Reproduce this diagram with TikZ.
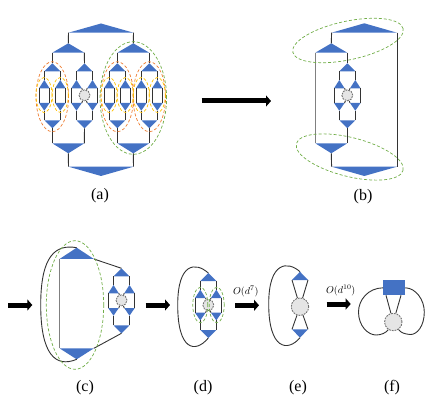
\documentclass[tikz,border=0pt]{standalone}
\usepackage{amsmath,amssymb}
\usepackage{xcolor}
\usepackage{fontspec}
\setmainfont{Liberation Serif}
\usepackage{tikz}
\usetikzlibrary{arrows.meta,shapes.geometric}

\definecolor{tnblue}{HTML}{4472C4}
\definecolor{tngreen}{HTML}{70AD47}
\definecolor{tnorange}{HTML}{ED7D31}
\definecolor{tnyellow}{HTML}{FFC000}

% triangle: name, x, apex y, base y, half width
\newcommand{\tri}[5]{%
    \coordinate (#1-a) at (#2,#3);
    \coordinate (#1-l) at ({#2-#5},#4);
    \coordinate (#1-r) at ({#2+#5},#4);
    \fill[tensor] (#1-a) -- (#1-l) -- (#1-r) -- cycle;
}
% shared part of a block: name, x, y
\newcommand{\blockparts}[3]{%
    \tri{#1t}{#2}{#3-32}{#3-24}{8}
    \tri{#1p}{#2-8}{#3-15.3}{#3-7}{5.3}
    \tri{#1q}{#2+8}{#3-15.3}{#3-7}{5.3}
    \tri{#1u}{#2-8}{#3+15.4}{#3+7.7}{5.3}
    \tri{#1v}{#2+8}{#3+15.4}{#3+7.7}{5.3}
    \tri{#1b}{#2}{#3+33}{#3+25}{8}
    \draw[leg] (#1t-l) -- (#1p-a);
    \draw[leg] (#1t-r) -- (#1q-a);
    \draw[leg] (#1u-a) -- (#1b-l);
    \draw[leg] (#1v-a) -- (#1b-r);
    \draw[leg] (#1p-l) -- (#1u-l);
    \draw[leg] (#1q-r) -- (#1v-r);
}
% block with plain wires
\newcommand{\plainblock}[3]{%
    \blockparts{#1}{#2}{#3}
    \draw[leg] (#1p-r) -- (#1u-r);
    \draw[leg] (#1q-l) -- (#1v-l);
}
% block with the gray site in its middle
\newcommand{\siteblock}[3]{%
    \blockparts{#1}{#2}{#3}
    \node[site, minimum size=11pt] (#1s) at (#2,#3) {};
    \draw[leg] (#1p-r) -- (#1s);
    \draw[leg] (#1q-l) -- (#1s);
    \draw[leg] (#1u-r) -- (#1s);
    \draw[leg] (#1v-l) -- (#1s);
}

\begin{document}
\begin{tikzpicture}[
        x=1pt, y=-1pt,
        tensor/.style={fill=tnblue},
        leg/.style={line width=0.9pt, draw=black!80},
        thickleg/.style={line width=1.3pt, draw=black!50},
        site/.style={circle, draw=black!55, dash pattern=on 1.8pt off 1pt, fill=black!10, line width=0.9pt, inner sep=0pt},
        hoop/.style={ellipse, densely dashed, inner sep=0pt, line width=0.7pt},
        greenhoop/.style={hoop, draw=tngreen},
        orangehoop/.style={hoop, draw=tnorange, minimum width=32.6pt, minimum height=70pt},
        yellowhoop/.style={hoop, draw=tnyellow, minimum width=16pt, minimum height=35pt},
        bigarrow/.style={line width=5pt, draw=black, -{Triangle[length=5pt, width=11pt]}},
        caption/.style={font=\fontsize{16}{18}\selectfont},
        cost/.style={font=\fontsize{10}{11}\selectfont}
    ]
    \useasboundingbox (0,0) rectangle (436,403);

    % (a) top and bottom
    \tri{at}{101}{23.5}{32.7}{32.5}
    \tri{ab}{101}{176}{166.7}{32.5}
    \tri{al}{68.3}{43.3}{52.7}{16}
    \tri{ar}{133.3}{43.3}{52.7}{16}
    \tri{am}{68.3}{153.3}{143.3}{16}
    \tri{an}{133.3}{153.3}{143.3}{16}
    \draw[leg] (at-l) -- (al-a);
    \draw[leg] (at-r) -- (ar-a);
    \draw[leg] (am-a) -- (ab-l);
    \draw[leg] (an-a) -- (ab-r);

    % (a) blocks
    \plainblock{ka}{52.3}{95.3}
    \siteblock{kb}{84.5}{95.3}
    \plainblock{kc}{117.3}{95.3}
    \plainblock{kd}{149.3}{95.3}
    \draw[leg] (al-l) -- (kat-a);
    \draw[leg] (al-r) -- (kbt-a);
    \draw[leg] (ar-l) -- (kct-a);
    \draw[leg] (ar-r) -- (kdt-a);
    \draw[leg] (kab-a) -- (am-l);
    \draw[leg] (kbb-a) -- (am-r);
    \draw[leg] (kcb-a) -- (an-l);
    \draw[leg] (kdb-a) -- (an-r);

    % (a) hoops
    \foreach \n/\hx in {oa/52.3, oc/117.3, od/149.3}
        \node[orangehoop] (\n) at (\hx,96.7) {};
    \foreach \n/\hx in {ya/44, yb/60.3, yc/109, yd/125.3, ye/141.3, yf/157.3}
        \node[yellowhoop] (\n) at (\hx,95) {};
    \node[greenhoop, minimum width=66.6pt, minimum height=112.6pt] (ga) at (133.3,98) {};

    \coordinate (fa) at (201.7,101);
    \coordinate (fb) at (271,101);
    \draw[bigarrow] (fa) -- (fb);
    \node[caption] (capa) at (100,196) {(a)};

    % (b)
    \tri{bt}{364.3}{23.3}{32.7}{32.7}
    \tri{bb}{364.3}{176}{166.7}{32.7}
    \tri{bl}{331.3}{43.3}{52.7}{16}
    \tri{bm}{331.3}{153.3}{143.3}{16}
    \siteblock{kf}{347.3}{95.3}
    \draw[leg] (bt-l) -- (bl-a);
    \draw[leg] (bt-r) -- (bb-r);
    \draw[thickleg] (bl-l) -- (bm-l);
    \draw[leg] (bl-r) -- (kft-a);
    \draw[leg] (kfb-a) -- (bm-r);
    \draw[leg] (bm-a) -- (bb-l);
    \node[greenhoop, rotate=12, minimum width=112.8pt, minimum height=38.6pt] (gb) at (348,40.5) {};
    \node[greenhoop, rotate=-14, minimum width=110pt, minimum height=39pt] (gc) at (349.7,157) {};
    \node[caption] (capb) at (363,197) {(b)};

    % (c)
    \coordinate (fc) at (8.3,305);
    \coordinate (fd) at (32.3,305);
    \draw[bigarrow] (fc) -- (fd);
    \tri{ct}{76.7}{247.7}{259}{17.2}
    \tri{cb}{76.7}{359.3}{348.3}{17.2}
    \draw[thickleg] (ct-l) -- (cb-l);
    \siteblock{kg}{121.5}{300.3}
    \draw[leg] (ct-r) -- (kgt-a);
    \draw[leg] (cb-r) -- (kgb-a);
    \coordinate (cw) at (40.7,305);
    \draw[leg] (ct-a) .. controls (56,244) and (40.7,255) .. (cw) .. controls (40.7,355) and (56,368) .. (cb-a);
    \node[greenhoop, minimum width=57.4pt, minimum height=128.6pt] (gd) at (75,305) {};
    \node[caption] (capc) at (85,388) {(c)};

    % (d)
    \coordinate (fe) at (145.7,305);
    \coordinate (ff) at (170,305);
    \draw[bigarrow] (fe) -- (ff);
    \siteblock{kh}{208.3}{305}
    \coordinate (dw) at (177.7,305);
    \draw[leg] (kht-a) .. controls (196,262) and (177.7,262) .. (dw) .. controls (177.7,350) and (195,354) .. (khb-a);
    \node[greenhoop, minimum width=15pt, minimum height=35.4pt] (ge) at (200.3,305) {};
    \node[greenhoop, minimum width=15pt, minimum height=35.4pt] (gf) at (216.7,305) {};
    \node[caption] (capd) at (203,388) {(d)};

    % (e)
    \coordinate (fg) at (235.3,305.3);
    \coordinate (fh) at (259,305.3);
    \draw[bigarrow] (fg) -- (fh);
    \node[cost] (coste) at (245.7,291.5) {$O(d^{7})$};
    \tri{et}{300}{271.7}{280}{8}
    \tri{eb}{300}{337.7}{329.3}{8}
    \node[site, minimum size=17.4pt] (es) at (300,306.7) {};
    \draw[leg] (et-l) -- (es);
    \draw[leg] (et-r) -- (es);
    \draw[leg] (eb-l) -- (es);
    \draw[leg] (eb-r) -- (es);
    \coordinate (ew) at (268.7,304);
    \draw[leg] (et-a) .. controls (288,261) and (268.7,261) .. (ew) .. controls (268.7,350) and (288,352) .. (eb-a);
    \node[caption] (cape) at (298,388) {(e)};

    % (f)
    \coordinate (fi) at (326.7,304);
    \coordinate (fj) at (350.7,304);
    \draw[bigarrow] (fi) -- (fj);
    \node[cost] (costf) at (340.7,290.5) {$O(d^{10})$};
    \node[rectangle, fill=tnblue, minimum width=21.7pt, minimum height=15pt, inner sep=0pt] (fr) at (394.2,287.8) {};
    \node[site, minimum size=17.4pt] (fs) at (393.3,322) {};
    \coordinate (fp) at (386,295.3);
    \coordinate (fq) at (401,295.3);
    \draw[leg] (fp) -- (fs);
    \draw[leg] (fq) -- (fs);
    \draw[leg] (fr.west) .. controls (368,288) and (358.5,300) .. (358.5,312) .. controls (358.5,326) and (368,335) .. (376,335) .. controls (381,335) and (386,333) .. (fs);
    \draw[leg] (fr.east) .. controls (416,288) and (424.3,300) .. (424.3,312) .. controls (424.3,326) and (417,335) .. (410,334.5) .. controls (405,334) and (401,333) .. (fs);
    \node[caption] (capf) at (392,388) {(f)};
\end{tikzpicture}
\end{document}
